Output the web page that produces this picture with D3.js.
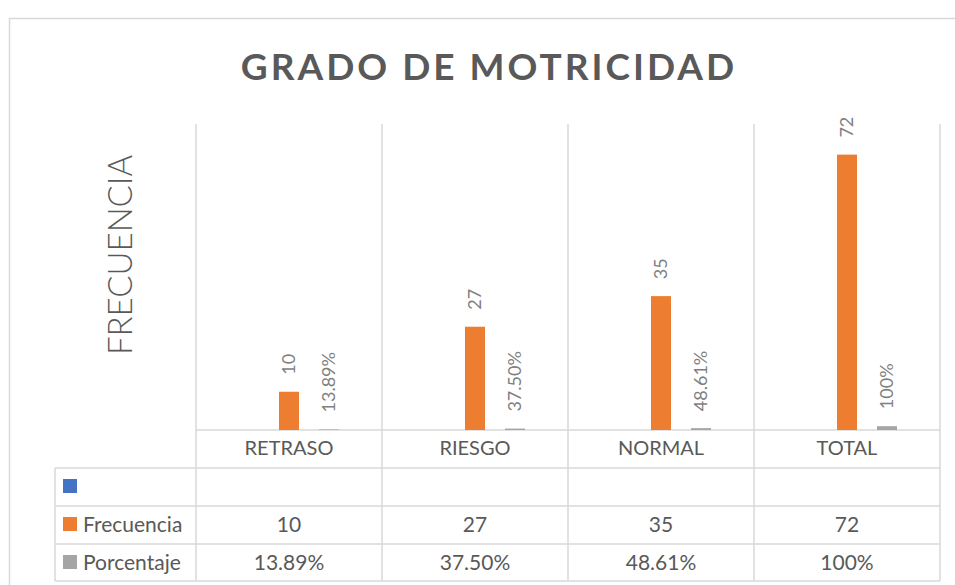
<!DOCTYPE html>
<html>
<head>
<meta charset="utf-8">
<script src="https://cdn.jsdelivr.net/npm/d3@7"></script>
<style>
  body { margin: 0; background: #fff; }
  text { font-family: Lato, "Open Sans", sans-serif; }
</style>
</head>
<body>
<div id="chart"></div>
<script>
// --- data ---
const categories = ["RETRASO", "RIESGO", "NORMAL", "TOTAL"];
const seriesNames = ["", "Frecuencia", "Porcentaje"];
const blankValues = [null, null, null, null];
const frecuencia = [10, 27, 35, 72];
const porcentaje = [0.1389, 0.375, 0.4861, 1];
const porcentajeLabels = ["13.89%", "37.50%", "48.61%", "100%"];
const seriesColors = ["#4472C4", "#ED7D31", "#A5A5A5"];

const width = 955, height = 585;
const plotLeft = 196, plotRight = 940, plotTop = 124, plotBottom = 430;
const tableLeft = 55, rowH = 38;

const svg = d3.select("#chart").append("svg")
  .attr("width", width).attr("height", height);

svg.append("rect").attr("width", width).attr("height", height).attr("fill", "#fff");

// chart border (only left/top visible)
svg.append("rect")
  .attr("x", 9.5).attr("y", 18.5)
  .attr("width", 960).attr("height", 580)
  .attr("fill", "none").attr("stroke", "#d9d9d9").attr("stroke-width", 1.5);

// title
svg.append("text")
  .attr("x", 489).attr("y", 80)
  .attr("text-anchor", "middle")
  .attr("font-size", 37).attr("font-weight", 700)
  .attr("letter-spacing", 3)
  .attr("fill", "#595959")
  .text("GRADO DE MOTRICIDAD");

// y axis title
svg.append("text")
  .attr("transform", "translate(120,255) rotate(-90)")
  .attr("text-anchor", "middle")
  .attr("dy", "0.36em")
  .attr("font-size", 33).attr("font-weight", 300)
  .attr("fill", "#595959")
  .text("FRECUENCIA");

// scales
const x0 = d3.scaleBand().domain(categories).range([plotLeft, plotRight]);
const x1 = d3.scaleBand().domain(seriesNames)
  .range([0, x0.bandwidth()]).paddingInner(0.5).paddingOuter(1.075);
const y = d3.scaleLinear().domain([0, 80]).range([plotBottom, plotTop]);

const grid = svg.append("g").attr("stroke", "#d9d9d9").attr("stroke-width", 1.5);
const bounds = categories.map(c => x0(c)).concat([plotRight]);
const tableBottom = plotBottom + rowH * 4 - 1;
grid.selectAll("line.v").data(bounds).join("line")
  .attr("class", "v")
  .attr("x1", d => d).attr("x2", d => d)
  .attr("y1", plotTop).attr("y2", tableBottom);
grid.append("line")
  .attr("x1", plotLeft).attr("x2", plotRight)
  .attr("y1", plotBottom).attr("y2", plotBottom);
const rowLines = d3.range(1, 5).map(i => plotBottom + i * rowH - (i === 4 ? 1 : 0));
grid.selectAll("line.h").data(rowLines).join("line")
  .attr("class", "h")
  .attr("x1", tableLeft).attr("x2", plotRight)
  .attr("y1", d => d).attr("y2", d => d);
grid.append("line")
  .attr("x1", tableLeft).attr("x2", tableLeft)
  .attr("y1", plotBottom + rowH).attr("y2", tableBottom);

// bars
const seriesData = [blankValues, frecuencia, porcentaje];
const bars = svg.append("g");
seriesData.forEach((vals, si) => {
  bars.selectAll(null)
    .data(vals.map((v, i) => ({ cat: categories[i], v })).filter(d => d.v != null))
    .join("rect")
    .attr("x", d => x0(d.cat) + x1(seriesNames[si]))
    .attr("width", x1.bandwidth())
    .attr("y", d => y(d.v))
    .attr("height", d => y(0) - y(d.v))
    .attr("fill", seriesColors[si]);
});

// data labels
function addLabels(vals, texts, sname) {
  svg.append("g").selectAll("text")
    .data(vals.map((v, i) => ({ cat: categories[i], v, t: texts[i] })))
    .join("text")
    .attr("transform", d => {
      const cx = x0(d.cat) + x1(sname) + x1.bandwidth() / 2;
      return `translate(${cx},${y(d.v) - 17}) rotate(-90)`;
    })
    .attr("dy", "0.36em")
    .attr("font-size", 18)
    .attr("fill", "#7f7f7f")
    .text(d => d.t);
}
addLabels(frecuencia, frecuencia.map(String), "Frecuencia");
addLabels(porcentaje, porcentajeLabels, "Porcentaje");

// category labels
svg.append("g").selectAll("text").data(categories).join("text")
  .attr("x", d => x0(d) + x0.bandwidth() / 2)
  .attr("y", 455)
  .attr("text-anchor", "middle")
  .attr("font-size", 20)
  .attr("fill", "#595959")
  .text(d => d);

// data table rows
const tableRows = [
  { name: "", texts: blankValues.map(() => "") },
  { name: "Frecuencia", texts: frecuencia.map(String) },
  { name: "Porcentaje", texts: porcentajeLabels }
];
tableRows.forEach((row, ri) => {
  const top = plotBottom + rowH * (ri + 1);
  svg.append("rect")
    .attr("x", 63).attr("y", top + 11)
    .attr("width", 14).attr("height", 14)
    .attr("fill", seriesColors[ri]);
  svg.append("text")
    .attr("x", 83).attr("y", top + 26)
    .attr("font-size", 21).attr("fill", "#595959")
    .text(row.name);
  svg.append("g").selectAll("text").data(row.texts).join("text")
    .attr("x", (d, i) => x0(categories[i]) + x0.bandwidth() / 2)
    .attr("y", top + 26)
    .attr("text-anchor", "middle")
    .attr("font-size", 21).attr("fill", "#595959")
    .text(d => d);
});
</script>
</body>
</html>
